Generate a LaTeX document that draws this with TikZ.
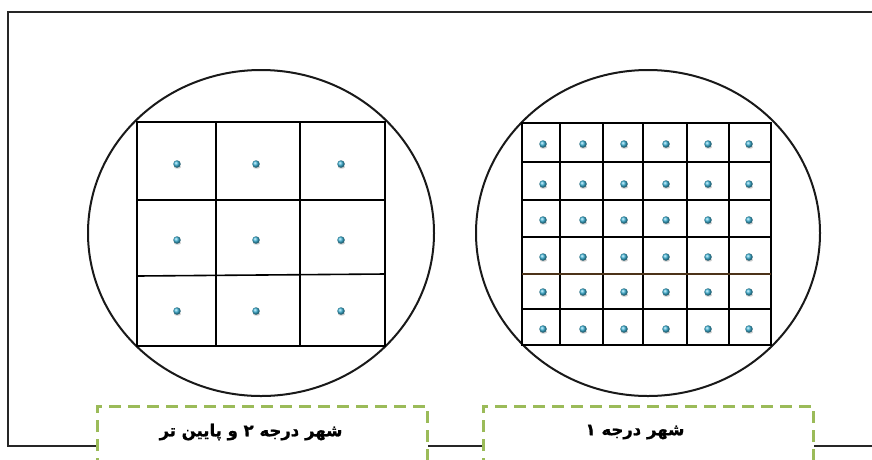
\documentclass[tikz,border=0pt]{standalone}
\usepackage{fontspec}
\TeXXeTstate=1
\newfontfamily\arabicfont[Script=Arabic,BoldFeatures={FakeBold=1.2}]{DejaVu Sans}
\usetikzlibrary{shapes.geometric}
\definecolor{dashgreen}{HTML}{9BBB59}
\definecolor{dotblue}{HTML}{3DB4D8}
\tikzset{
  frameline/.style={line width=1.3pt, black!85},
  cityring/.style={draw=black!90, line width=2pt, ellipse, inner sep=0pt},
  gridline/.style={line width=1.6pt, black},
  labelbox/.style={draw=dashgreen, line width=3pt, dash pattern=on 12pt off 7pt},
  citydot/.style={circle, inner sep=0pt, minimum size=7.5pt, shading=ball, ball color=dotblue},
  labeltext/.style={font=\arabicfont\bfseries\fontsize{16.5}{19}\selectfont}
}
\begin{document}
\begin{tikzpicture}[x=1pt,y=-1pt]
\useasboundingbox (0,0) rectangle (872,459);
% frame
\draw[frameline] (872,12) -- (8,12) -- (8,446) -- (97,446);
\draw[frameline] (428,446) -- (483,446);
\draw[frameline] (814,446) -- (872,446);
% rings
\node[cityring, minimum width=346pt, minimum height=326pt] (ringL) at (261,233) {};
\node[cityring, minimum width=344pt, minimum height=326pt] (ringR) at (648,233) {};
% left grid
\draw[gridline] (137,122) rectangle (385,346);
\foreach \x in {216,300} \draw[gridline] (\x,122) -- (\x,346);
\draw[gridline] (137,200) -- (385,200);
\draw[gridline] (137,276) -- (385,274);
\foreach \x in {177,256,341}
  \foreach \y in {164,240,311}
    {\fill[black!20] (\x+0.5,\y+3) ellipse (3.5pt and 1.7pt);
     \node[citydot] at (\x,\y) {};}
% right grid
\draw[gridline] (522,123) rectangle (771,345);
\foreach \x in {560,603,643,687,729} \draw[gridline] (\x,123) -- (\x,345);
\foreach \y in {162,200,237,309} \draw[gridline] (522,\y) -- (771,\y);
\draw[line width=1.6pt, black!60!brown] (522,274) -- (771,274);
\foreach \x in {543,583,624,666,708,749}
  \foreach \y in {144,184,220,257,292,329}
    {\fill[black!20] (\x+0.5,\y+3) ellipse (3.5pt and 1.7pt);
     \node[citydot] at (\x,\y) {};}
% label boxes (open at bottom)
\draw[labelbox] (97,470) -- (97,406) -- (427,406) -- (427,470);
\draw[labelbox] (483,470) -- (483,406) -- (813,406) -- (813,470);
\node[labeltext] (labL) at (251,432) {\beginR شهر درجه ۲ و پایین تر\endR};
\node[labeltext] (labR) at (635,432) {\beginR شهر درجه ۱\endR};
\end{tikzpicture}
\end{document}
